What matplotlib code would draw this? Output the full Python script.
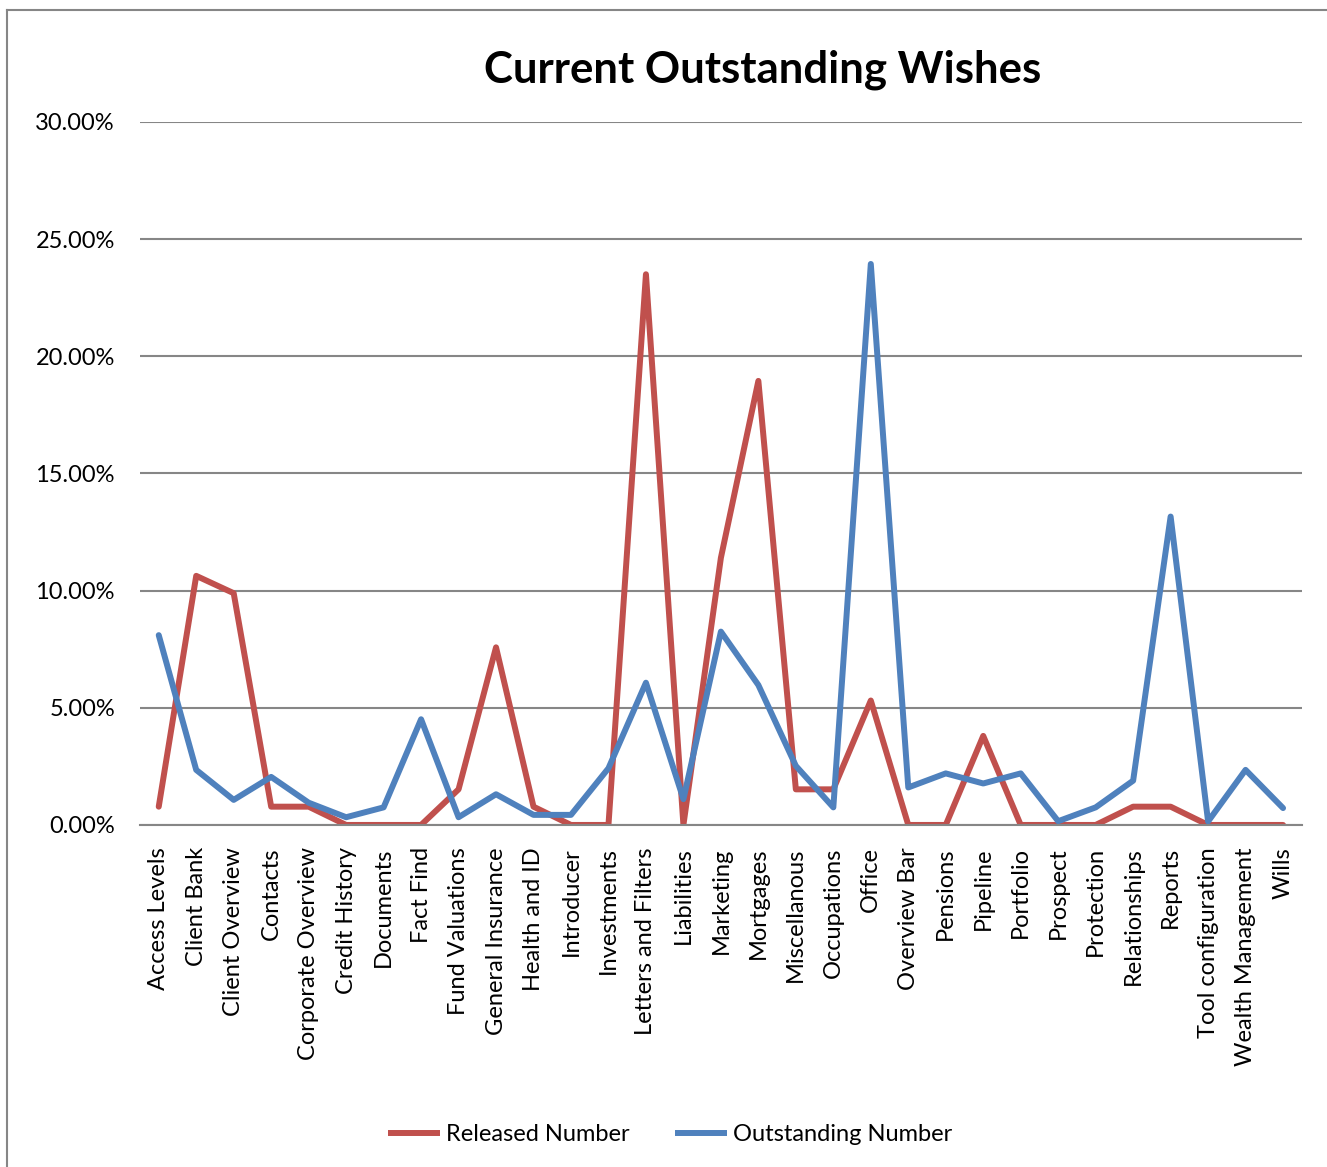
import matplotlib
matplotlib.use("Agg")
import matplotlib.pyplot as plt
from matplotlib.lines import Line2D
from matplotlib.ticker import PercentFormatter

plt.rcParams["font.family"] = ["Lato", "DejaVu Sans"]

categories = [
    "Access Levels", "Client Bank", "Client Overview", "Contacts",
    "Corporate Overview", "Credit History", "Documents", "Fact Find",
    "Fund Valuations", "General Insurance", "Health and ID", "Introducer",
    "Investments", "Letters and Filters", "Liabilities", "Marketing",
    "Mortgages", "Miscellanous", "Occupations", "Office", "Overview Bar",
    "Pensions", "Pipeline", "Portfolio", "Prospect", "Protection",
    "Relationships", "Reports", "Tool configuration", "Wealth Management",
    "Wills",
]

# values in percent
released = [
    0.78, 10.63, 9.89, 0.78, 0.78, 0.0, 0.0, 0.0, 1.52, 7.58, 0.78, 0.0,
    0.0, 23.5, 0.0, 11.4, 18.95, 1.52, 1.52, 5.31, 0.0, 0.0, 3.8, 0.0,
    0.0, 0.0, 0.78, 0.78, 0.0, 0.0, 0.0,
]
outstanding = [
    8.1, 2.35, 1.07, 2.05, 0.95, 0.33, 0.75, 4.51, 0.33, 1.31, 0.43, 0.43,
    2.42, 6.07, 1.1, 8.25, 5.97, 2.52, 0.75, 23.94, 1.6, 2.2, 1.77, 2.2,
    0.16, 0.75, 1.89, 13.16, 0.15, 2.35, 0.72,
]

fig = plt.figure(figsize=(13.27, 11.67), dpi=100)
ax = fig.add_axes([0.1055, 0.2931, 0.8755, 0.6024])

x = list(range(len(categories)))
ax.plot(x, released, color="#C0504D", lw=4.3, solid_capstyle="round",
        solid_joinstyle="round", label="Released Number")
ax.plot(x, outstanding, color="#4F81BD", lw=4.3, solid_capstyle="round",
        solid_joinstyle="round", label="Outstanding Number")

ax.set_xlim(-0.5, len(categories) - 0.5)
ax.set_ylim(0, 30)
ax.set_yticks([0, 5, 10, 15, 20, 25, 30])
ax.yaxis.set_major_formatter(PercentFormatter(decimals=2))
ax.set_xticks(x)
ax.set_xticklabels(categories, rotation=90, fontsize=17)
ax.tick_params(axis="y", labelsize=17, length=0, pad=18)
ax.tick_params(axis="x", length=0, pad=16)
ax.grid(axis="y", color="#868686", lw=1.5)
ax.set_axisbelow(True)
for side in ["left", "right", "top"]:
    ax.spines[side].set_visible(False)
ax.spines["bottom"].set_color("#868686")
ax.spines["bottom"].set_linewidth(1.5)

fig.text(0.575, 0.94, "Current Outstanding Wishes", ha="center", va="center",
         fontsize=31.5, fontweight="bold")

leg = fig.legend(loc="center", bbox_to_anchor=(0.505, 0.028), ncol=2,
                 frameon=False, fontsize=17, handlelength=2.2,
                 handletextpad=0.25, columnspacing=1.9)
for h in leg.get_lines():
    h.set_solid_capstyle("butt")

# chart area border
fig.add_artist(Line2D([0.0053, 0.0053], [0.0, 0.9914], color="#868686", lw=1.5,
                      transform=fig.transFigure))
fig.add_artist(Line2D([0.0053, 1.0], [0.9914, 0.9914], color="#868686", lw=1.5,
                      transform=fig.transFigure))

fig.savefig("out.png", dpi=100)
